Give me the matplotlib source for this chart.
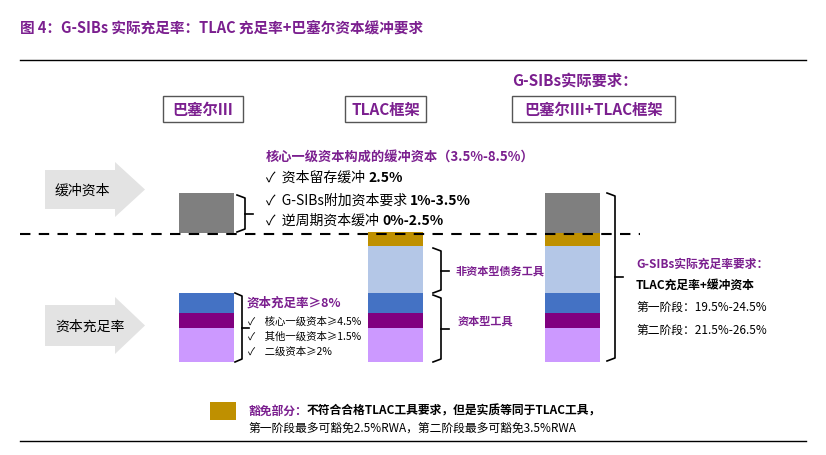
import matplotlib.pyplot as plt
from matplotlib.patches import Rectangle, Polygon

plt.rcParams["font.family"] = ["Noto Sans CJK SC", "DejaVu Sans"]

PURPLE = "#7B1F8F"

# stacked segments (top to bottom), heights in pixel units of the diagram
seg_names = ["缓冲资本", "豁免部分", "非资本型债务工具", "核心一级资本", "其他一级资本", "二级资本"]
seg_colors = ["#7F7F7F", "#BF9000", "#B4C7E7", "#4472C4", "#800080", "#CC99FF"]
seg_heights = [40, 14, 47, 20, 15, 34]
col_x = [179, 368, 545]
col_width = 55
col_segments = [[0, 3, 4, 5], [1, 2, 3, 4, 5], [0, 1, 2, 3, 4, 5]]
base_y = 363
buffer_base_y = 234  # the buffer block always sits on the dashed line

headers = ["巴塞尔III", "TLAC框架", "巴塞尔III+TLAC框架"]
header_boxes = [(163, 80), (345, 81), (512, 163)]

fig = plt.figure(figsize=(8.26, 4.56), dpi=100)
ax = fig.add_axes([0, 0, 1, 1])
ax.set_xlim(0, 826)
ax.set_ylim(456, 0)
ax.axis("off")


def brace(x, y0, y1, w=8, side=1):
    ym = (y0 + y1) / 2
    ax.plot([x, x + w * side, x + w * side, x], [y0, y0 + 3, y1 - 3, y1], color="black", lw=1.2)
    ax.plot([x + w * side, x + 2 * w * side], [ym, ym], color="black", lw=1.2)


def arrow(y0, y1, label):
    pts = [(45, y0 + 8), (115, y0 + 8), (115, y0), (145, (y0 + y1) / 2),
           (115, y1), (115, y1 - 8), (45, y1 - 8)]
    ax.add_patch(Polygon(pts, closed=True, facecolor="#E3E3E3", edgecolor="none"))
    ax.text(55, (y0 + y1) / 2, label, fontsize=10, va="center", ha="left")


# title and rules
ax.text(20, 28, "图 4：G-SIBs 实际充足率：TLAC 充足率+巴塞尔资本缓冲要求",
        fontsize=10.5, color=PURPLE, fontweight="bold", va="center")
ax.plot([20, 806], [61, 61], color="black", lw=1)
ax.plot([20, 806], [442, 442], color="black", lw=1)

# headers
for text, (bx, bw) in zip(headers, header_boxes):
    ax.add_patch(Rectangle((bx, 97), bw, 26, facecolor="white", edgecolor="#555555", lw=1))
    ax.text(bx + bw / 2, 110, text, fontsize=11, color=PURPLE, fontweight="bold",
            ha="center", va="center")
ax.text(575, 81, "G-SIBs实际要求：", fontsize=11, color=PURPLE, fontweight="bold",
        ha="center", va="center")

arrow(163, 218, "缓冲资本")
arrow(298, 355, "资本充足率")

# stacked columns
for x, segs in zip(col_x, col_segments):
    y = base_y
    for si in reversed(segs):
        h = seg_heights[si]
        if si == 0:
            y = buffer_base_y
        ax.add_patch(Rectangle((x, y - h), col_width, h, facecolor=seg_colors[si], edgecolor="none"))
        y -= h

ax.plot([20, 640], [235, 235], color="black", lw=1.5, ls=(0, (5, 4)))

# column 1 annotations
brace(237, 196, 233)
ax.text(266, 158, "核心一级资本构成的缓冲资本（3.5%-8.5%）", fontsize=9.5,
        color=PURPLE, fontweight="bold", va="center")
checks = [("资本留存缓冲 ", "2.5%"), ("G-SIBs附加资本要求 ", "1%-3.5%"),
          ("逆周期资本缓冲 ", "0%-2.5%")]
for (t, v), y in zip(checks, [178, 201, 221]):
    tx = ax.text(266, y, "✓  " + t, fontsize=10, va="center")
    ax.annotate(v, xycoords=tx, xy=(1, 0.5), va="center", fontsize=10, fontweight="bold")

brace(235, 294, 363, w=7)
ax.text(247, 303, "资本充足率≥8%", fontsize=9, color=PURPLE, fontweight="bold", va="center")
for t, y in zip(["核心一级资本≥4.5%", "其他一级资本≥1.5%", "二级资本≥2%"], [322, 337, 352]):
    ax.text(248, y, "✓    " + t, fontsize=7.5, va="center")

# column 2 annotations
brace(433, 249, 294)
brace(433, 296, 363)
ax.text(455, 271, "非资本型债务工具", fontsize=8, color=PURPLE, fontweight="bold", va="center")
ax.text(458, 321, "资本型工具", fontsize=8, color=PURPLE, fontweight="bold", va="center")

# column 3 annotations
brace(607, 194, 362)
ax.text(636, 264, "G-SIBs实际充足率要求：", fontsize=8.5, color=PURPLE, fontweight="bold", va="center")
ax.text(636, 285, "TLAC充足率+缓冲资本", fontsize=8.5, fontweight="bold", va="center")
ax.text(636, 307, "第一阶段：19.5%-24.5%", fontsize=8.5, va="center")
ax.text(636, 330, "第二阶段：21.5%-26.5%", fontsize=8.5, va="center")

# legend
ax.add_patch(Rectangle((210, 403), 26, 18, facecolor=seg_colors[1], edgecolor="none"))
t1 = ax.text(248, 411, "豁免部分：", fontsize=8.5, color=PURPLE, fontweight="bold", va="center")
ax.annotate("不符合合格TLAC工具要求，但是实质等同于TLAC工具，", xycoords=t1, xy=(1, 0.5),
            va="center", fontsize=8.5, fontweight="bold")
ax.text(248, 428, "第一阶段最多可豁免2.5%RWA，第二阶段最多可豁免3.5%RWA", fontsize=8.5, va="center")

fig.savefig("out.png", dpi=100)
